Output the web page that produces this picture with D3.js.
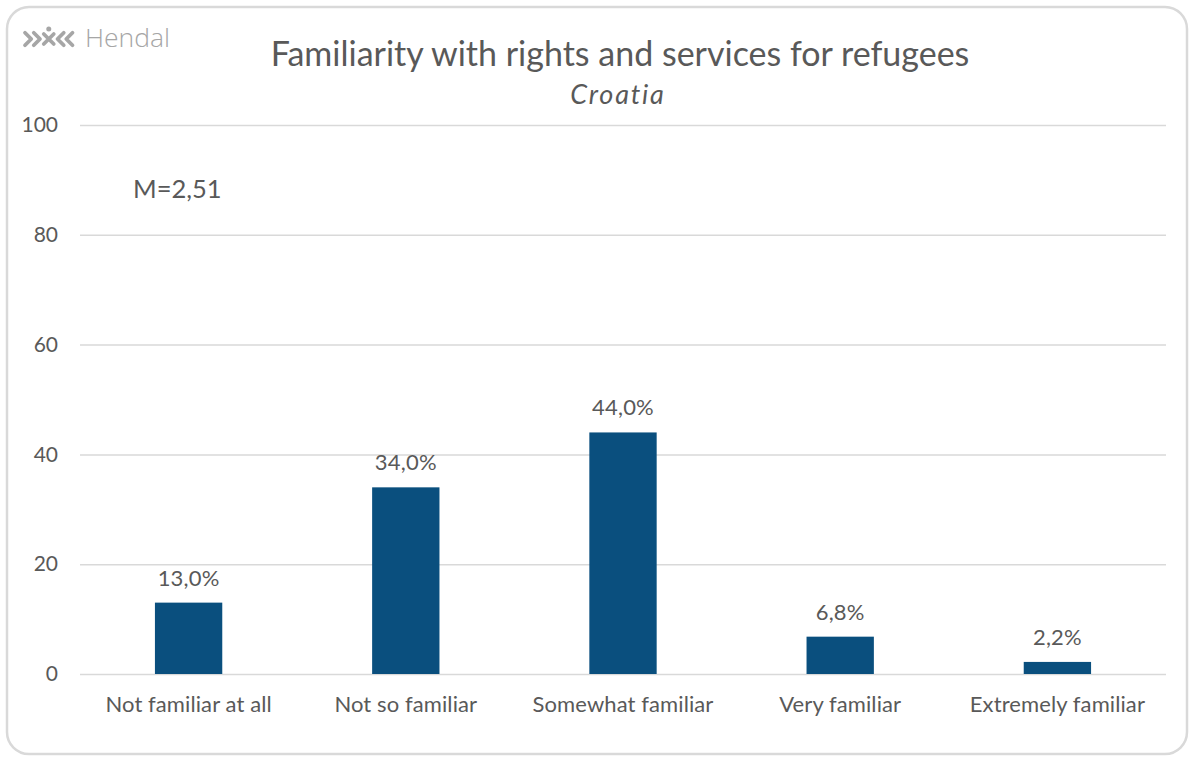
<!DOCTYPE html>
<html><head><meta charset="utf-8">
<script src="https://cdn.jsdelivr.net/npm/d3@7"></script>
<style>html,body{margin:0;padding:0;background:#fff;}svg{display:block;}</style>
</head><body>
<script>
const categories = ["Not familiar at all","Not so familiar","Somewhat familiar","Very familiar","Extremely familiar"];
const values = [13.0, 34.0, 44.0, 6.8, 2.2];
const valueLabels = ["13,0%","34,0%","44,0%","6,8%","2,2%"];
const yTicks = [0,20,40,60,80,100];
const title = "Familiarity with rights and services for refugees";
const subtitle = "Croatia";
const meanLabel = "M=2,51";

(function(){
const W = 1193, H = 760;
const font = "Lato, 'Open Sans', 'Liberation Sans', sans-serif";
const svg = d3.select("body").append("svg").attr("width", W).attr("height", H);

svg.append("rect").attr("x",7).attr("y",7).attr("width",1180).attr("height",747)
  .attr("rx",22).attr("fill","#fff").attr("stroke","#d9d9d9").attr("stroke-width",2.5);

const pl = 80, pr = 1166, pt = 125, pb = 674;
const x = d3.scaleBand().domain(categories).range([pl,pr]).paddingInner(0.69).paddingOuter(0.345);
const y = d3.scaleLinear().domain([0,100]).range([pb,pt]);

const yAxis = svg.append("g").attr("transform",`translate(${pl},0)`)
  .call(d3.axisLeft(y).tickValues(yTicks).tickSize(-(pr-pl)).tickPadding(22));
yAxis.select(".domain").remove();
yAxis.selectAll("line").attr("stroke","#d9d9d9").attr("stroke-width",1.5);
yAxis.selectAll("text").attr("font-family",font).attr("font-size",21).attr("fill","#595959");

const xAxis = svg.append("g").attr("transform",`translate(0,${pb})`)
  .call(d3.axisBottom(x).tickSize(0).tickPadding(22));
xAxis.select(".domain").remove();
xAxis.selectAll("text").attr("font-family",font).attr("font-size",22).attr("letter-spacing",0.1).attr("fill","#595959");

svg.selectAll("rect.bar").data(values).join("rect").attr("class","bar")
  .attr("x",(d,i)=>x(categories[i])).attr("width",x.bandwidth())
  .attr("y",d=>y(d)).attr("height",d=>y(0)-y(d)).attr("fill","#0a4f7e");

svg.selectAll("text.vl").data(values).join("text").attr("class","vl")
  .attr("x",(d,i)=>x(categories[i])+x.bandwidth()/2).attr("y",d=>y(d)-17)
  .attr("text-anchor","middle").attr("font-family",font).attr("font-size",22).attr("letter-spacing",0.2).attr("fill","#595959")
  .text((d,i)=>valueLabels[i]);

svg.append("text").attr("x",620).attr("y",66).attr("text-anchor","middle")
  .attr("font-family",font).attr("font-size",34).attr("fill","#595959").text(title);
svg.append("text").attr("x",618).attr("y",104).attr("text-anchor","middle")
  .attr("font-family",font).attr("font-size",27).attr("letter-spacing",1.8).attr("font-style","italic").attr("fill","#595959").text(subtitle);
svg.append("text").attr("x",133).attr("y",198)
  .attr("font-family",font).attr("font-size",25.5).attr("fill","#595959").text(meanLabel);

const logo = svg.append("g").attr("transform","translate(25,39) scale(1.25)").attr("fill","none").attr("stroke","#a6a6a6").attr("stroke-width",3).attr("stroke-linecap","round").attr("stroke-linejoin","round");
logo.append("path").attr("d","M0,-5 L5,0 L0,5");
logo.append("path").attr("d","M7,-5 L12,0 L7,5");
logo.append("path").attr("d","M15,-4 L23,4 M23,-4 L15,4");
logo.append("circle").attr("cx",19).attr("cy",-8).attr("r",2).attr("fill","#a6a6a6").attr("stroke","none");
logo.append("path").attr("d","M31,-5 L26,0 L31,5");
logo.append("path").attr("d","M38,-5 L33,0 L38,5");
svg.append("text").attr("x",85).attr("y",47).attr("font-family","'Open Sans', sans-serif").attr("font-weight",300)
  .attr("font-size",26.5).attr("fill","#a6a6a6").text("Hendal");
})();
</script>
</body></html>
